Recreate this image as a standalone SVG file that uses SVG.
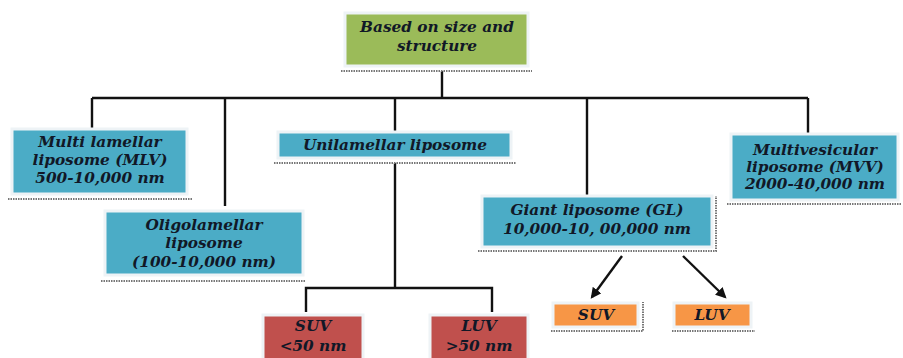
<svg xmlns="http://www.w3.org/2000/svg" width="903" height="358" viewBox="0 0 903 358">
<defs>
<style>
.box{stroke:#eef3f6;stroke-width:3}
.green{fill:#9BBB59}
.blue{fill:#4BACC6}
.red{fill:#C0504D}
.orange{fill:#F79646}
.dot{stroke:#777;stroke-width:2;stroke-dasharray:1.5 1;fill:none}
.t{font-family:"DejaVu Serif","Liberation Serif",serif;font-weight:bold;font-style:italic;font-size:15.3px;fill:#111827;text-anchor:middle}
.ln{stroke:#111;stroke-width:2.4;fill:none}
</style>
<marker id="ah" viewBox="0 0 10 10" refX="8" refY="5" markerWidth="4.5" markerHeight="4.5" orient="auto">
<path d="M0,0 L10,5 L0,10 Z" fill="#111"/>
</marker>
</defs>
<rect width="903" height="358" fill="#fff"/>
<g id="connectors">
<path class="ln" d="M442,71 V98 M92,98 H808 M92,98 V128 M225,98 V206 M395,98 V132 M587,98 V196 M808,98 V133"/>
<path class="ln" d="M395,163 V288 M306,312 V288 H492 V312"/>
<path class="ln" stroke-width="3.5" d="M622,256 L592,297" marker-end="url(#ah)"/>
<path class="ln" stroke-width="3.5" d="M683,256 L725,297" marker-end="url(#ah)"/>
</g>
<g id="root">
<rect class="box green" x="345" y="13" width="183" height="53"/>
<path class="dot" d="M341,71 H532"/>
<text class="t" x="437" y="32">Based on size and</text>
<text class="t" x="437" y="51">structure</text>
</g>
<g id="mlv">
<rect class="box blue" x="12" y="129" width="175" height="65"/>
<path class="dot" d="M8,199 H192"/>
<text class="t" x="100" y="147">Multi lamellar</text>
<text class="t" x="100" y="165">liposome (MLV)</text>
<text class="t" x="100" y="183">500-10,000 nm</text>
</g>
<g id="oligo">
<rect class="box blue" x="105" y="211" width="198" height="64"/>
<path class="dot" d="M101,281 H305"/>
<text class="t" x="204" y="230">Oligolamellar</text>
<text class="t" x="204" y="248">liposome</text>
<text class="t" x="204" y="267">(100-10,000 nm)</text>
</g>
<g id="uni">
<rect class="box blue" x="278" y="132" width="233" height="26"/>
<path class="dot" d="M274,163 H516"/>
<text class="t" x="395" y="150">Unilamellar liposome</text>
</g>
<g id="giant">
<rect class="box blue" x="482" y="196" width="230" height="51"/>
<path class="dot" d="M478,251 H716 V196"/>
<text class="t" x="597" y="215">Giant liposome (GL)</text>
<text class="t" x="597" y="234">10,000-10, 00,000 nm</text>
</g>
<g id="mvv">
<rect class="box blue" x="731" y="134" width="167" height="66"/>
<path class="dot" d="M727,204 H902"/>
<text class="t" x="815" y="155">Multivesicular</text>
<text class="t" x="815" y="172">liposome (MVV)</text>
<text class="t" x="815" y="189">2000-40,000 nm</text>
</g>
<g id="suv-red">
<rect class="box red" x="263" y="315" width="100" height="50"/>
<text class="t" x="313" y="331">SUV</text>
<text class="t" x="313" y="351">&lt;50 nm</text>
</g>
<g id="luv-red">
<rect class="box red" x="430" y="315" width="98" height="50"/>
<text class="t" x="479" y="331">LUV</text>
<text class="t" x="479" y="351">&gt;50 nm</text>
</g>
<g id="suv-orange">
<rect class="box orange" x="553" y="303" width="85" height="24"/>
<path class="dot" d="M551,331 H643 V302"/>
<text class="t" x="596" y="320">SUV</text>
</g>
<g id="luv-orange">
<rect class="box orange" x="674" y="303" width="77" height="24"/>
<path class="dot" d="M672,331 H755"/>
<text class="t" x="712" y="320">LUV</text>
</g>
</svg>
